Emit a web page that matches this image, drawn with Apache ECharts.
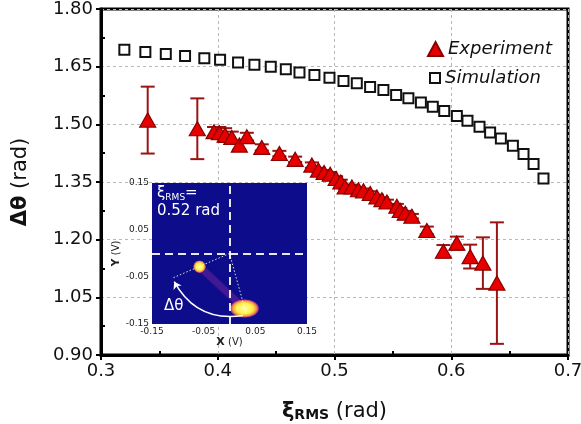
<!DOCTYPE html>
<html>
<head>
<meta charset="utf-8">
<script src="https://cdn.jsdelivr.net/npm/echarts@6/dist/echarts.min.js"></script>
<style>
  html, body { margin: 0; padding: 0; background: #fff; }
  #chart { width: 581px; height: 424px; }
</style>
</head>
<body>
<div id="chart"></div>
<script>
// Simulated phase separation vs RMS phase noise
const simX = [0.320, 0.338, 0.3555, 0.372, 0.3885, 0.402, 0.4174, 0.4314, 0.4454, 0.4583,
  0.470, 0.4828, 0.4957, 0.5077, 0.5191, 0.5305, 0.5419, 0.5528, 0.5633, 0.574,
  0.5842, 0.594, 0.6048, 0.6139, 0.6242, 0.6333, 0.6425, 0.6528, 0.6619, 0.6705, 0.679];
const simY = [1.694, 1.688, 1.683, 1.678, 1.672, 1.668, 1.661, 1.655, 1.650, 1.643,
  1.635, 1.628, 1.621, 1.613, 1.607, 1.597, 1.589, 1.576, 1.568, 1.557,
  1.546, 1.535, 1.522, 1.509, 1.494, 1.479, 1.463, 1.444, 1.423, 1.397, 1.359];

// Measured phase separation with its uncertainty
const expX = [0.340, 0.3825, 0.3968, 0.4014, 0.4063, 0.412, 0.4185, 0.4249, 0.4377, 0.4528,
  0.4663, 0.4806, 0.4862, 0.4911, 0.4963, 0.5014, 0.5054, 0.5091, 0.5149, 0.5205,
  0.5248, 0.5306, 0.5363, 0.5406, 0.5449, 0.5534, 0.5563, 0.5606, 0.5663, 0.5791,
  0.5933, 0.6048, 0.6162, 0.6271, 0.6391];
const expY = [1.511, 1.4885, 1.481, 1.478, 1.472, 1.466, 1.446, 1.468, 1.440, 1.424,
  1.409, 1.394, 1.381, 1.375, 1.370, 1.359, 1.350, 1.337, 1.337, 1.330,
  1.327, 1.320, 1.311, 1.304, 1.298, 1.287, 1.276, 1.269, 1.261, 1.224,
  1.170, 1.191, 1.156, 1.139, 1.087];
const expErr = [0.087, 0.079, 0.012, 0.015, 0.018, 0.015, 0.012, 0.010, 0.008, 0.007,
  0.007, 0.007, 0.006, 0.006, 0.006, 0.006, 0.006, 0.006, 0.006, 0.006,
  0.006, 0.006, 0.006, 0.006, 0.006, 0.006, 0.006, 0.006, 0.006, 0.010,
  0.016, 0.017, 0.031, 0.067, 0.158];

// Main axis ranges and tick spacing
const xRange = [0.3, 0.7], xStep = 0.1;
const yRange = [0.9, 1.8], yStep = 0.15;

// Inset: IQ-plane histogram at xi_RMS = 0.52 rad
const insetRange = [-0.15, 0.15], insetStep = 0.1;
const clusterA = [-0.058, -0.028];
const clusterB = [0.029, -0.117];
const rayA = [-0.112, -0.053];
const rayB = [0.032, -0.127];
const arcStart = [0.026, -0.132];
const arcEnd = [-0.107, -0.060];

const FONT = 'DejaVu Sans';
const chart = echarts.init(document.getElementById('chart'), null, { renderer: 'canvas' });

const errColor = '#9a1414';
const GRID_LEFT = 101, GRID_RIGHT = 13, GRID_TOP = 9, GRID_BOTTOM = 69;
const plotW = 581 - GRID_LEFT - GRID_RIGHT;
const plotH = 424 - GRID_TOP - GRID_BOTTOM;

const option = {
  animation: false,
  backgroundColor: '#fff',
  grid: [
    {
      left: GRID_LEFT, right: GRID_RIGHT, top: GRID_TOP, bottom: GRID_BOTTOM,
      outerBoundsMode: 'none', containLabel: false,
      show: true, borderColor: '#000', borderWidth: 3, backgroundColor: 'transparent'
    },
    { left: 152, top: 183, width: 155, height: 141, outerBoundsMode: 'none', containLabel: false }
  ],
  legend: [
    {
      data: ['Experiment'], orient: 'vertical', left: 422, top: 35, align: 'left',
      itemWidth: 15, itemHeight: 14, itemGap: 10,
      textStyle: { fontFamily: FONT, fontSize: 18, fontStyle: 'italic', color: '#111' }
    },
    {
      data: ['Simulation'], orient: 'vertical', left: 424, top: 64, align: 'left',
      itemWidth: 10, itemHeight: 10, itemGap: 10, itemTextGap: 14,
      textStyle: { fontFamily: FONT, fontSize: 18, fontStyle: 'italic', color: '#111' }
    }
  ],
  xAxis: [
    {
      gridIndex: 0, type: 'value', min: xRange[0], max: xRange[1], interval: xStep,
      axisLine: { lineStyle: { color: '#000', width: 3 } },
      axisTick: { length: 5, lineStyle: { color: '#000', width: 2 } },
      axisLabel: { fontFamily: FONT, fontSize: 18, color: '#111', margin: 7, formatter: v => v.toFixed(1) },
      splitLine: { show: true, lineStyle: { color: '#b8b8b8', width: 1, type: [3, 3] } },
      name: '{b|ξ}{s|RMS}{n| (rad)}', nameLocation: 'middle', nameGap: 43,
      nameTextStyle: {
        rich: {
          b: { fontFamily: FONT, fontSize: 21, fontWeight: 'bold', color: '#111', lineHeight: 24, verticalAlign: 'bottom' },
          s: { fontFamily: FONT, fontSize: 14, fontWeight: 'bold', color: '#111', lineHeight: 24, verticalAlign: 'bottom', padding: [9, 0, 0, 0] },
          n: { fontFamily: FONT, fontSize: 21, color: '#111', lineHeight: 24, verticalAlign: 'bottom' }
        }
      }
    },
    {
      // minor ticks along the bottom edge, pointing into the plot
      gridIndex: 0, type: 'value', min: xRange[0], max: xRange[1], interval: xStep,
      position: 'top', offset: -plotH,
      axisLine: { show: false }, axisLabel: { show: false }, splitLine: { show: false },
      axisTick: { show: false },
      minorTick: { show: true, splitNumber: 2, length: 4, lineStyle: { color: '#000', width: 2 } }
    },
    {
      gridIndex: 1, type: 'value', min: insetRange[0], max: insetRange[1], interval: insetStep,
      axisLine: { show: false }, axisTick: { show: false }, splitLine: { show: false },
      axisLabel: { fontFamily: FONT, fontSize: 9, color: '#222', margin: 3, formatter: v => v.toFixed(2) },
      name: '{b|X} (V)', nameLocation: 'middle', nameGap: 13,
      nameTextStyle: { fontFamily: FONT, fontSize: 10, color: '#222', rich: { b: { fontFamily: FONT, fontSize: 11, fontWeight: 'bold', color: '#222' } } }
    }
  ],
  yAxis: [
    {
      gridIndex: 0, type: 'value', min: yRange[0], max: yRange[1], interval: yStep,
      axisLine: { lineStyle: { color: '#000', width: 3 } },
      axisTick: { length: 5, lineStyle: { color: '#000', width: 2 } },
      axisLabel: { fontFamily: FONT, fontSize: 18, color: '#111', margin: 8, formatter: v => v.toFixed(2) },
      splitLine: { show: true, lineStyle: { color: '#b8b8b8', width: 1, type: [3, 3] } },
      name: '{b|Δθ}{n| (rad)}', nameLocation: 'middle', nameGap: 70,
      nameTextStyle: {
        rich: {
          b: { fontFamily: FONT, fontSize: 21, fontWeight: 'bold', color: '#111' },
          n: { fontFamily: FONT, fontSize: 21, color: '#111' }
        }
      }
    },
    {
      // minor ticks along the left edge, pointing into the plot
      gridIndex: 0, type: 'value', min: yRange[0], max: yRange[1], interval: yStep,
      position: 'right', offset: -plotW,
      axisLine: { show: false }, axisLabel: { show: false }, splitLine: { show: false },
      axisTick: { show: false },
      minorTick: { show: true, splitNumber: 2, length: 4, lineStyle: { color: '#000', width: 2 } }
    },
    {
      gridIndex: 1, type: 'value', min: insetRange[0], max: insetRange[1], interval: insetStep,
      axisLine: { show: false }, axisTick: { show: false }, splitLine: { show: false },
      axisLabel: { fontFamily: FONT, fontSize: 9, color: '#222', margin: 3, formatter: v => v.toFixed(2) },
      name: '{b|Y} (V)', nameLocation: 'middle', nameGap: 29,
      nameTextStyle: { fontFamily: FONT, fontSize: 10, color: '#222', rich: { b: { fontFamily: FONT, fontSize: 11, fontWeight: 'bold', color: '#222' } } }
    }
  ],
  series: [
    {
      name: 'Simulation', type: 'scatter', xAxisIndex: 0, yAxisIndex: 0,
      symbol: 'rect', symbolSize: 10,
      itemStyle: { color: '#fff', borderColor: '#111', borderWidth: 2, opacity: 1 },
      data: simX.map((x, i) => [x, simY[i]]), z: 4
    },
    {
      name: 'errorbars', type: 'custom', xAxisIndex: 0, yAxisIndex: 0, z: 3,
      data: expX.map((x, i) => [x, expY[i], expErr[i]]),
      encode: { x: 0, y: 1 },
      renderItem: function (params, api) {
        const x = api.value(0), y = api.value(1), e = api.value(2);
        const top = api.coord([x, y + e]);
        const bot = api.coord([x, y - e]);
        const half = 7;
        const st = { stroke: errColor, lineWidth: 2 };
        return {
          type: 'group',
          children: [
            { type: 'line', shape: { x1: top[0], y1: top[1], x2: bot[0], y2: bot[1] }, style: st },
            { type: 'line', shape: { x1: top[0] - half, y1: top[1], x2: top[0] + half, y2: top[1] }, style: st },
            { type: 'line', shape: { x1: bot[0] - half, y1: bot[1], x2: bot[0] + half, y2: bot[1] }, style: st }
          ]
        };
      }
    },
    {
      name: 'Experiment', type: 'scatter', xAxisIndex: 0, yAxisIndex: 0,
      symbol: 'triangle', symbolSize: [16, 14],
      itemStyle: { color: '#e60000', borderColor: '#8a0000', borderWidth: 1.2, opacity: 1 },
      data: expX.map((x, i) => [x, expY[i]]), z: 5
    },
    // inset background
    {
      name: 'insetBg', type: 'custom', xAxisIndex: 2, yAxisIndex: 2, z: 6, silent: true,
      data: [[insetRange[0], insetRange[0], insetRange[1], insetRange[1]]],
      renderItem: function (params, api) {
        const p0 = api.coord([api.value(0), api.value(3)]);
        const p1 = api.coord([api.value(2), api.value(1)]);
        return { type: 'rect', shape: { x: p0[0], y: p0[1], width: p1[0] - p0[0], height: p1[1] - p0[1] }, style: { fill: '#0d0c8a' } };
      }
    },
    {
      name: 'streak', type: 'lines', coordinateSystem: 'cartesian2d', xAxisIndex: 2, yAxisIndex: 2, z: 7, silent: true,
      lineStyle: { color: 'rgba(140,45,160,0.35)', width: 7, curveness: 0, shadowBlur: 4, shadowColor: 'rgba(140,45,160,0.4)', opacity: 1 },
      data: [{ coords: [clusterA, clusterB] }]
    },
    {
      name: 'clusters', type: 'scatter', xAxisIndex: 2, yAxisIndex: 2, z: 8, silent: true,
      data: [
        { value: clusterA, symbolSize: 13 },
        { value: clusterB, symbolSize: [30, 19] }
      ],
      itemStyle: {
        opacity: 1,
        color: {
          type: 'radial', x: 0.5, y: 0.5, r: 0.5,
          colorStops: [
            { offset: 0, color: '#ffffa0' },
            { offset: 0.55, color: '#fff04a' },
            { offset: 0.78, color: '#f0a040' },
            { offset: 0.92, color: '#b03a8c' },
            { offset: 1, color: 'rgba(100,30,150,0)' }
          ]
        }
      }
    },
    {
      name: 'axesCross', type: 'lines', coordinateSystem: 'cartesian2d', xAxisIndex: 2, yAxisIndex: 2, z: 9, silent: true,
      lineStyle: { color: '#fff', width: 2, type: [8, 5], opacity: 0.9 },
      data: [
        { coords: [[insetRange[0], 0], [insetRange[1], 0]] },
        { coords: [[0, insetRange[0]], [0, insetRange[1]]] }
      ]
    },
    {
      name: 'rays', type: 'lines', coordinateSystem: 'cartesian2d', xAxisIndex: 2, yAxisIndex: 2, z: 9, silent: true,
      lineStyle: { color: '#fff', width: 1, type: [1.5, 2], opacity: 0.85 },
      data: [
        { coords: [[0, 0], rayA] },
        { coords: [[0, 0], rayB] }
      ]
    },
    {
      name: 'angleArc', type: 'lines', coordinateSystem: 'cartesian2d', xAxisIndex: 2, yAxisIndex: 2, z: 9, silent: true,
      symbol: ['none', 'arrow'], symbolSize: 7,
      lineStyle: { color: '#fff', width: 1.5, curveness: 0.35, opacity: 1 },
      data: [{ coords: [arcStart, arcEnd] }]
    }
  ],
  graphic: [
    {
      type: 'text', left: 157, top: 186, z: 100,
      style: {
        text: '{a|ξ}{s|RMS}{a|=}\n{a|0.52 rad}',
        rich: {
          a: { fontFamily: FONT, fontSize: 15, fill: '#fff', lineHeight: 18 },
          s: { fontFamily: FONT, fontSize: 9, fill: '#fff', lineHeight: 18, verticalAlign: 'bottom', padding: [6, 0, 0, 0] }
        }
      }
    },
    {
      type: 'text', left: 164, top: 299, z: 100,
      style: { text: 'Δθ', fontFamily: FONT, fontSize: 15, fill: '#fff' }
    }
  ]
};

chart.setOption(option);
</script>
</body>
</html>
